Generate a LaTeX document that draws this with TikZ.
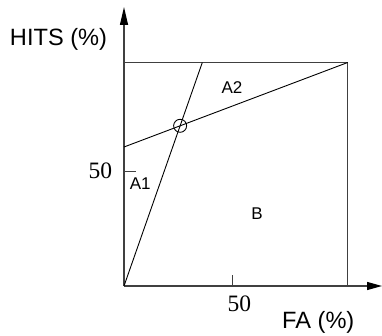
\documentclass[tikz,border=0pt]{standalone}
\usepackage{fontspec}
\setmainfont{Liberation Serif}
\newfontfamily\labfont{Liberation Sans}
\usetikzlibrary{arrows.meta}
\tikzset{
  frame/.style={draw=black!75, line width=1.2pt},
  curve/.style={draw=black, line width=0.9pt},
  axlabel/.style={inner sep=0pt, anchor=base, font=\labfont\fontsize{23.6}{28}\selectfont},
  reglabel/.style={inner sep=0pt, anchor=base, font=\labfont\fontsize{17}{20}\selectfont},
  ticklabel/.style={inner sep=0pt, anchor=base, font=\fontsize{23.5}{28}\selectfont},
}
\begin{document}
\begin{tikzpicture}[x=1pt, y=-1pt]
\useasboundingbox (0,0) rectangle (382,336);
% key points
\coordinate (O) at (124,286);
\coordinate (YT) at (124,7);
\coordinate (XT) at (382,286);
\coordinate (TL) at (124,62.5);
\coordinate (TR) at (347.7,62.5);
\coordinate (BR) at (347.7,286);
\coordinate (T1) at (202.3,62.5);
\coordinate (L2) at (124,147);
\coordinate (Y50a) at (124,171.7);
\coordinate (Y50b) at (135.7,171.7);
\coordinate (X50a) at (232.7,286);
\coordinate (X50b) at (232.7,275);
% axes
\draw[frame, -{Triangle[length=18pt, width=8pt, color=black, fill=black]}] (O) -- (YT);
\draw[frame, -{Triangle[length=15pt, width=8pt, color=black, fill=black]}] (O) -- (XT);
% box
\draw[frame] (TL) -- (TR) -- (BR);
% ticks
\draw[frame] (Y50a) -- (Y50b);
\draw[frame] (X50a) -- (X50b);
% curves
\draw[curve] (O) -- (T1);
\draw[curve] (L2) -- (TR);
\coordinate (X) at (intersection of O--T1 and L2--TR);
\node[circle, draw=black, line width=0.9pt, minimum size=13pt, inner sep=0pt] (cx) at (X) {};
% labels
\node[axlabel] (hits) at (58.5,46) {HITS (\%)};
\node[axlabel] (fa) at (318.3,328.3) {FA (\%)};
\node[ticklabel] (y50) at (100.3,179) {50};
\node[ticklabel] (x50) at (239.3,311.7) {50};
\node[reglabel] (a1) at (140.3,190) {A1};
\node[reglabel] (a2) at (232,93.3) {A2};
\node[reglabel] (b) at (257,220) {B};
\end{tikzpicture}
\end{document}
